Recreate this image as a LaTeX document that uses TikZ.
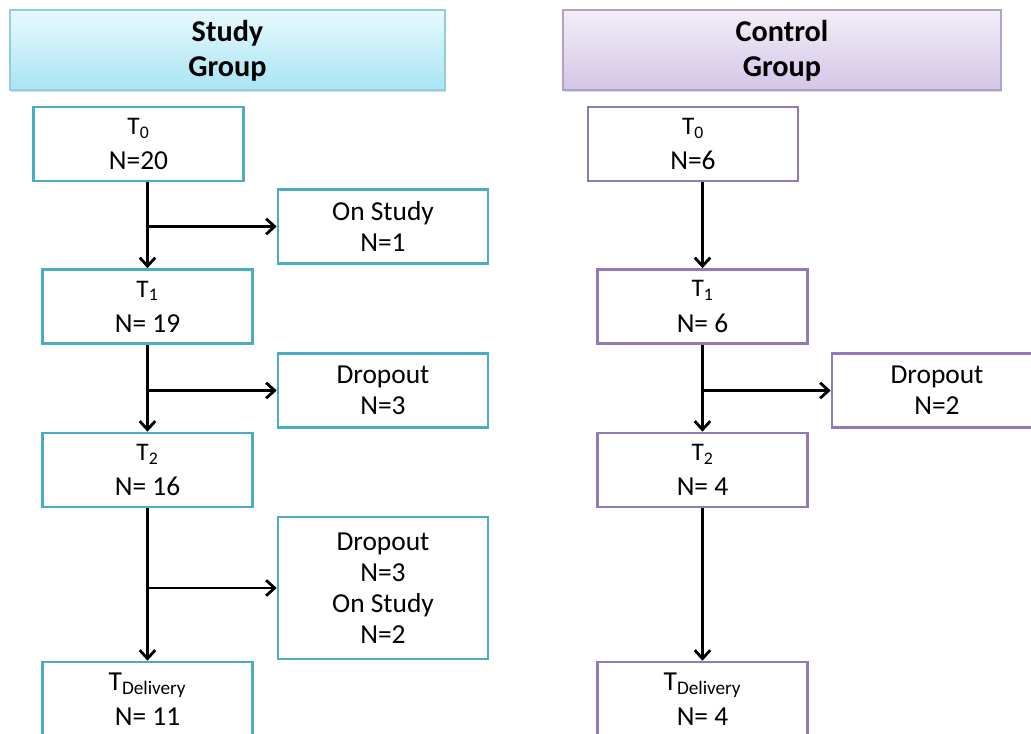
\documentclass[tikz,border=0pt]{standalone}
\usepackage{fontspec}
\setmainfont{Carlito}
\usetikzlibrary{arrows.meta,shadows}

\definecolor{studyline}{HTML}{4BACC6}
\definecolor{studyhd}{HTML}{93CDDD}
\definecolor{studytop}{HTML}{E8F9FD}
\definecolor{studybot}{HTML}{A8E4F4}
\definecolor{ctrlline}{HTML}{9179BA}
\definecolor{ctrlhd}{HTML}{B2A1C7}
\definecolor{ctrltop}{HTML}{F3EEF8}
\definecolor{ctrlbot}{HTML}{D3C5E7}

\newcommand{\tlabel}[1]{{\fontsize{18}{18}\selectfont T\textsubscript{#1}}}

\begin{document}
\begin{tikzpicture}[
  head/.style={
    draw, line width=1pt, rectangle,
    minimum height=2.0cm, text depth=2pt,
    font=\bfseries\fontsize{21.5}{25}\selectfont, align=center,
    drop shadow={shadow xshift=1pt, shadow yshift=-1.5pt, opacity=0.3}
  },
  studyhead/.style={head, draw=studyhd, top color=studytop, bottom color=studybot, minimum width=10.875cm},
  ctrlhead/.style={head, draw=ctrlhd, top color=ctrltop, bottom color=ctrlbot, minimum width=10.95cm},
  box/.style={
    draw, line width=1.9pt, rectangle, fill=white,
    minimum width=5.25cm, minimum height=1.85cm,
    font=\fontsize{19.5}{22}\selectfont, align=center, inner sep=2pt
  },
  sbox/.style={box, draw=studyline},
  cbox/.style={box, draw=ctrlline},
  arr/.style={-{Straight Barb[length=6pt,width=11pt]}, line width=2pt},
]

\clip (0,0) rectangle (25.775,-18.325);

% group headers
\node[studyhead] (shead) at (5.6875,-1.25) {Study\\Group};
\node[ctrlhead]  (chead) at (19.55,-1.25)  {Control\\Group};

% study group
\node[sbox] (s0)   at (3.4625,-3.6)    {\tlabel{0}\\[3pt]N=20};
\node[sbox] (son)  at (9.575,-5.6625)  {On Study\\N=1};
\node[sbox] (s1)   at (3.6875,-7.6625) {\tlabel{1}\\[3pt]N= 19};
\node[sbox] (sd1)  at (9.575,-9.7625)  {Dropout\\N=3};
\node[sbox] (s2)   at (3.6875,-11.75)  {\tlabel{2}\\[3pt]N= 16};
\node[sbox, minimum height=3.55cm] (sd2) at (9.575,-14.7) {Dropout\\N=3\\On Study\\N=2};
\node[sbox] (sdel) at (3.6875,-17.475) {T\textsubscript{Delivery}\\[3pt]N= 11};

% control group
\node[cbox] (c0)   at (17.325,-3.6)     {\tlabel{0}\\[3pt]N=6};
\node[cbox] (c1)   at (17.5625,-7.6625) {\tlabel{1}\\[3pt]N= 6};
\node[cbox] (cd1)  at (23.425,-9.7625)  {Dropout\\N=2};
\node[cbox] (c2)   at (17.5625,-11.75)  {\tlabel{2}\\[3pt]N= 4};
\node[cbox] (cdel) at (17.5625,-17.475) {T\textsubscript{Delivery}\\[3pt]N= 4};

\draw[arr] (s1.north |- s0.south)   -- (s1.north);
\draw[arr] (s1.north |- son.west)   -- (son.west);
\draw[arr] (s2.north |- s1.south)   -- (s2.north);
\draw[arr] (s2.north |- sd1.west)   -- (sd1.west);
\draw[arr] (sdel.north |- s2.south) -- (sdel.north);
\draw[arr] (sdel.north |- sd2.west) -- (sd2.west);

\draw[arr] (c1.north |- c0.south)   -- (c1.north);
\draw[arr] (c2.north |- c1.south)   -- (c2.north);
\draw[arr] (c2.north |- cd1.west)   -- (cd1.west);
\draw[arr] (cdel.north |- c2.south) -- (cdel.north);

\end{tikzpicture}
\end{document}
